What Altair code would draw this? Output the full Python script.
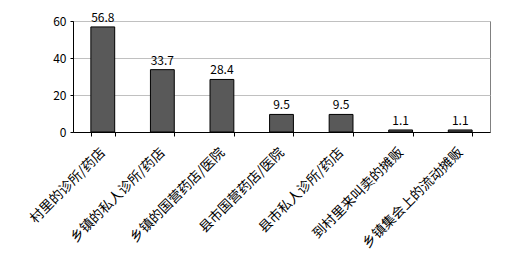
import altair as alt
import pandas as pd

categories = ["村里的诊所/药店", "乡镇的私人诊所/药店", "乡镇的国营药店/医院", "县市国营药店/医院",
              "县市私人诊所/药店", "到村里来叫卖的摊贩", "乡镇集会上的流动摊贩"]
values = [56.8, 33.7, 28.4, 9.5, 9.5, 1.1, 1.1]
labels = ["56.8", "33.7", "28.4", "9.5", "9.5", "1.1", "1.1"]
y_ticks = [0, 20, 40, 60]

df = pd.DataFrame({"cat": categories, "val": values, "lab": labels})

FONT = "Noto Sans CJK SC"

x = alt.X("cat:N", sort=categories, title=None,
          scale=alt.Scale(paddingInner=0.6, paddingOuter=0.3),
          axis=alt.Axis(labelAngle=-45, labelAlign="right", labelBaseline="middle",
                        labelFontSize=13.5, labelFont=FONT, labelColor="black",
                        labelPadding=14, tickBand="extent", tickSize=4,
                        tickColor="black", domainColor="black", labelLimit=300))
y = alt.Y("val:Q", title=None,
          scale=alt.Scale(domain=[0, 60], nice=False),
          axis=alt.Axis(values=y_ticks, labelFontSize=12, labelFont=FONT, labelColor="black",
                        tickSize=3, tickColor="black", domainColor="black",
                        grid=True, gridColor="#c0c0c0", labelPadding=4, labelOverlap=False))

base = alt.Chart(df).encode(x=x, y=y)
bars = base.mark_bar(color="#595959", stroke="black", strokeWidth=1)
text = base.mark_text(baseline="bottom", dy=-2, fontSize=12, font=FONT, color="black").encode(text="lab:N")

chart = (bars + text).properties(
    width=417, height=111,
    padding={"left": 73, "top": 21, "right": 19, "bottom": 123},
    autosize=alt.AutoSizeParams(type="none"),
    background="white",
).configure_view(stroke="#808080", strokeWidth=1)

chart.save("out.html", embed_options={"renderer": "svg", "actions": False})
